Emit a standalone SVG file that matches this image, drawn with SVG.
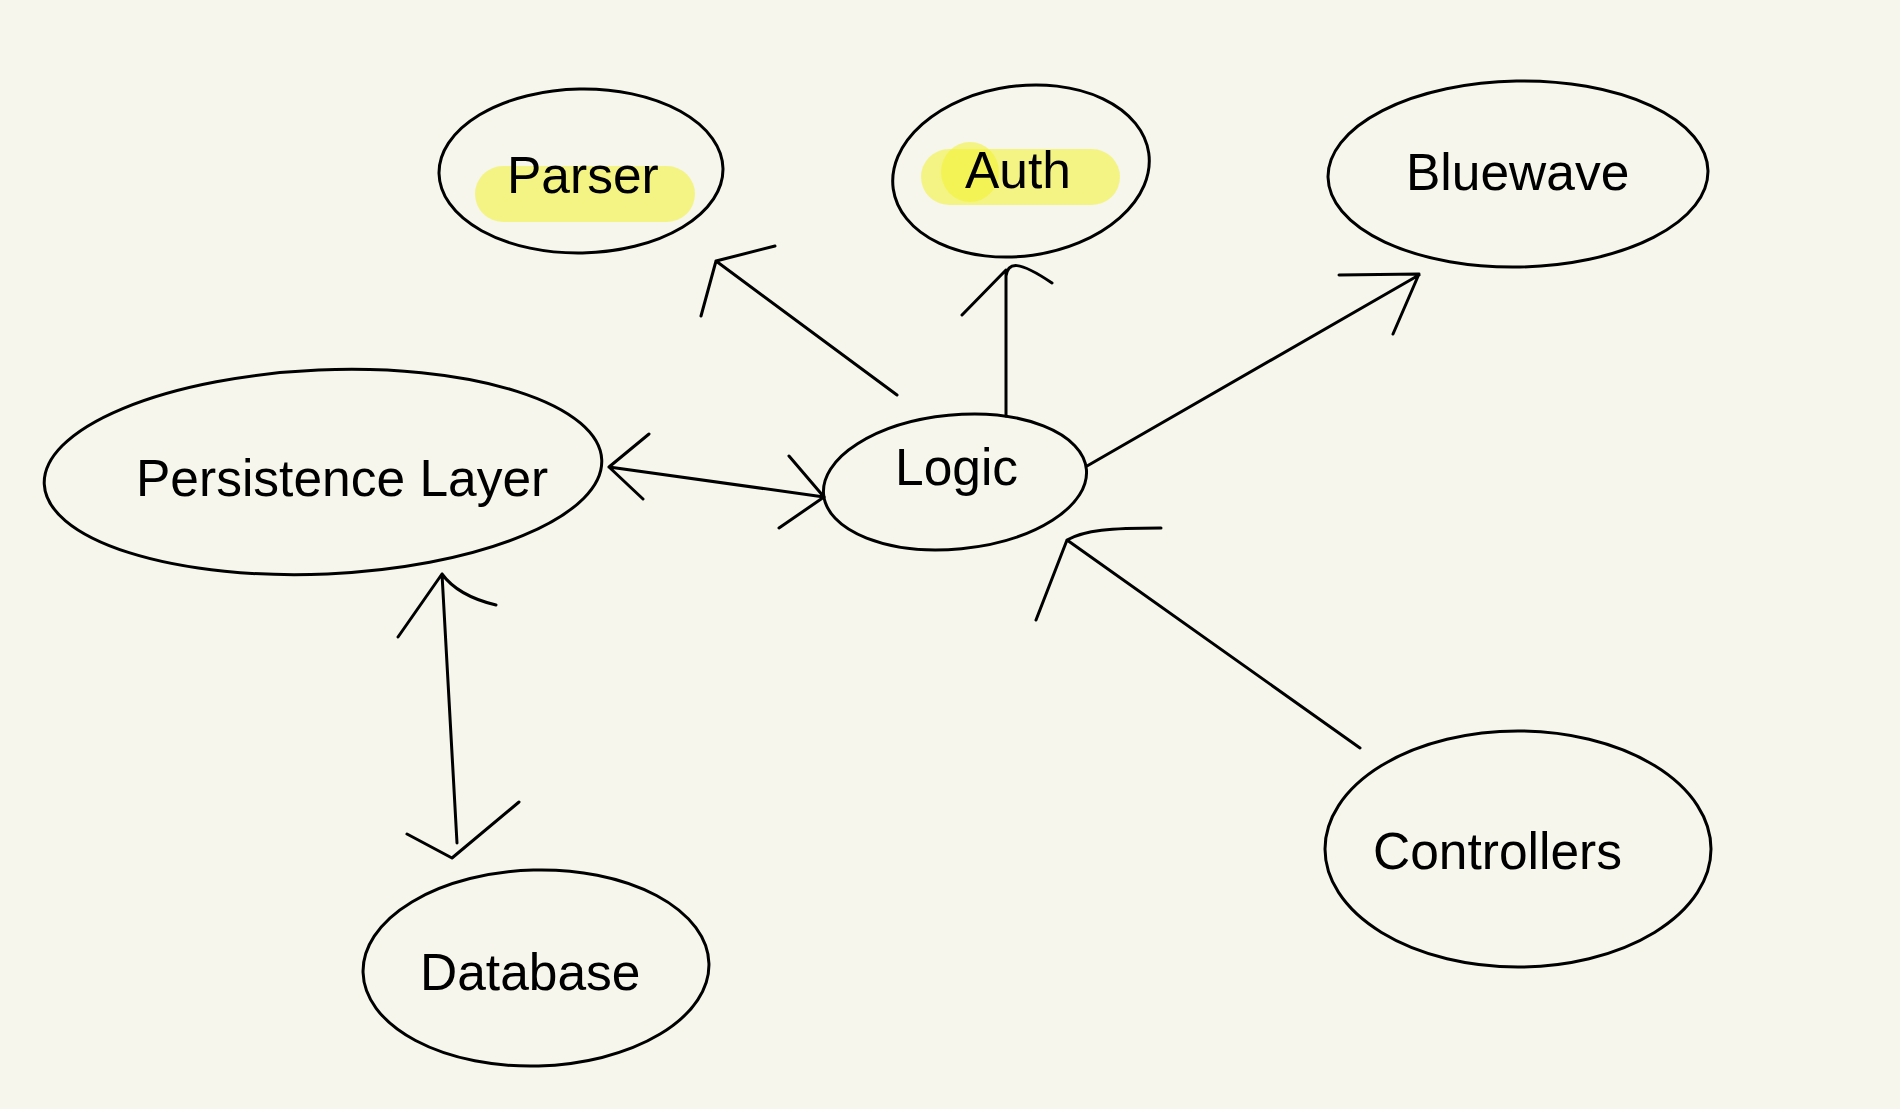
<svg xmlns="http://www.w3.org/2000/svg" width="1900" height="1109" viewBox="0 0 1900 1109">
<style>
.node ellipse.outline{fill:none;stroke:#000;stroke-width:3}
.hl{fill:#f2f230;fill-opacity:0.55}
.lbl{font-family:"Liberation Sans",Arial,Helvetica,sans-serif;font-size:51.5px;fill:#000}
#connectors path{fill:none;stroke:#000;stroke-width:3;stroke-linecap:round;stroke-linejoin:round}
</style>
<rect x="0" y="0" width="1900" height="1109" fill="#f6f6ec"/>
<g id="parser" class="node">
<rect class="hl" x="475" y="166" width="220" height="56" rx="28"/>
<ellipse class="outline" cx="581" cy="171" rx="142" ry="82" transform="rotate(-1 581 171)"/>
<text class="lbl" x="507" y="193">Parser</text>
</g>
<g id="auth" class="node">
<rect class="hl" x="921" y="149" width="199" height="56" rx="28"/>
<ellipse class="hl" cx="970" cy="172" rx="29" ry="30"/>
<ellipse class="outline" cx="1021" cy="171" rx="129" ry="85" transform="rotate(-8 1021 171)"/>
<text class="lbl" x="965" y="188">Auth</text>
</g>
<g id="bluewave" class="node">
<ellipse class="outline" cx="1518" cy="174" rx="190" ry="93" transform="rotate(-1 1518 174)"/>
<text class="lbl" x="1406" y="190">Bluewave</text>
</g>
<g id="persistence" class="node">
<ellipse class="outline" cx="323" cy="472" rx="279" ry="102" transform="rotate(-2.5 323 472)"/>
<text class="lbl" x="136" y="496">Persistence Layer</text>
</g>
<g id="logic" class="node">
<ellipse class="outline" cx="955" cy="482" rx="132" ry="67" transform="rotate(-5.5 955 482)"/>
<text class="lbl" x="895" y="485">Logic</text>
</g>
<g id="database" class="node">
<ellipse class="outline" cx="536" cy="968" rx="173" ry="98" transform="rotate(-1.5 536 968)"/>
<text class="lbl" x="420" y="990">Database</text>
</g>
<g id="controllers" class="node">
<ellipse class="outline" cx="1518" cy="849" rx="193" ry="118"/>
<text class="lbl" x="1373" y="869">Controllers</text>
</g>
<g id="connectors">
<path d="M897 395 L716 261 M775 246 L716 261 L701 316"/>
<path d="M1006 416 L1006 270 M962 315 L1006 270 M1006 276 C1008 262 1018 260 1052 283"/>
<path d="M1087 466 L1419 275 M1339 275 L1419 274 L1393 334"/>
<path d="M609 467 L824 497 M649 434 L609 467 L643 499 M789 456 L824 497 L779 528"/>
<path d="M442 574 L457 843 M398 637 L442 574 Q458 596 496 605 M407 834 L452 858 L519 802"/>
<path d="M1360 748 L1067 540 L1036 620 M1067 540 C1085 530 1110 528 1161 528"/>
</g>
</svg>
